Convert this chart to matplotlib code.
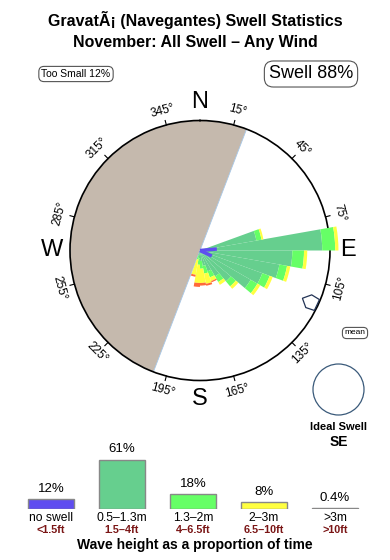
import numpy as np
import matplotlib
matplotlib.use("Agg")
import matplotlib.pyplot as plt
from matplotlib.patches import Polygon, Ellipse

plt.rcParams['font.family'] = ['Liberation Sans', 'DejaVu Sans']

# --- rose data (10 deg direction bins, radius 1.0 = outer circle) ---
dir_centers = [75, 85, 95, 105, 115, 125, 135, 145, 155, 165, 175, 185, 195]
r_small = [0.44, 0.94, 0.71, 0.62, 0.51, 0.45, 0.31, 0.23, 0.17, 0.12, 0.08, 0.06, 0.04]   # 0.5-1.3m
r_mid = [0.04, 0.10, 0.09, 0.06, 0.06, 0.06, 0.05, 0.05, 0.05, 0.06, 0.06, 0.05, 0.03]     # 1.3-2m
r_big = [0.015, 0.025, 0.025, 0.025, 0.025, 0.025, 0.025, 0.025, 0.03, 0.08, 0.11, 0.14, 0.12]  # 2-3m
r_huge = [0, 0, 0, 0, 0, 0, 0, 0, 0.01, 0.015, 0.02, 0.03, 0.015]  # >3m
noswell_dir = [85, 115]
noswell_r = [0.13, 0.10]

land_from, land_to = 201, 381   # shaded land sector (bearing)
mean_dir = 115

# --- bottom bar data ---
size_labels = ['no swell', '0.5\u20131.3m', '1.3\u20132m', '2\u20133m', '>3m']
feet_labels = ['<1.5ft', '1.5\u20134ft', '4\u20136.5ft', '6.5\u201310ft', '>10ft']
size_pct = [12, 61, 18, 8, 0.4]
pct_text = ['12%', '61%', '18%', '8%', '0.4%']
colors = ['#5f4df0', '#66cf8e', '#66ff66', '#ffff40', '#ff6a3a']

W, H = 390, 560
fig = plt.figure(figsize=(W / 100, H / 100), dpi=100)


def fx(x):
    return x / W


def fy(y):
    return 1 - y / H


fig.text(fx(195), fy(20), 'Gravat\u00c3\u00a1 (Navegantes) Swell Statistics',
         ha='center', va='center', fontsize=11.5, fontweight='bold')
fig.text(fx(195), fy(42), 'November: All Swell \u2013 Any Wind',
         ha='center', va='center', fontsize=11.5, fontweight='bold')

box = dict(boxstyle='round,pad=0.25,rounding_size=0.5', fc='white', ec='#555555', lw=0.8)
fig.text(fx(76), fy(74), 'Too Small 12%', ha='center', va='center', fontsize=7.5, bbox=box)
fig.text(fx(311), fy(74), 'Swell 88%', ha='center', va='center', fontsize=13, bbox=box)

# --- polar rose ---
cx, cy, R = 200, 250.5, 130
ax = fig.add_axes([fx(cx - R), fy(cy + R), 2 * R / W, 2 * R / H], projection='polar')
ax.set_theta_zero_location('N')
ax.set_theta_direction(-1)
ax.set_ylim(0, 1)
ax.grid(False)
ax.set_xticks([])
ax.set_yticks([])
ax.spines['polar'].set_linewidth(1.2)
ax.patch.set_alpha(0)

th = np.radians(np.linspace(land_from, land_to, 200))
ax.fill(np.concatenate([[0], th]), np.concatenate([[0], np.ones_like(th)]),
        color='#c5b9ad', ec='#a8c8e8', lw=0.6, zorder=1)

theta = np.radians(dir_centers)
width = np.radians(10)
bottom = np.zeros(len(dir_centers))
for vals, c in zip([r_small, r_mid, r_big, r_huge], colors[1:]):
    bars = ax.bar(theta, vals, width=width, bottom=bottom, color=c, lw=0, zorder=3)
    for b in bars:
        b.set_clip_on(False)
    bottom = bottom + np.array(vals)

for d, rr in zip(noswell_dir, noswell_r):
    ax.plot([np.radians(d), np.radians(d)], [0, rr], color=colors[0], lw=2.5,
            solid_capstyle='butt', zorder=4)

# ticks and degree labels
for b in range(15, 360, 30):
    t = np.radians(b)
    ax.plot([t, t], [1.0, 1.035], color='black', lw=0.8, clip_on=False)
    rot = -b if (b < 90 or b > 270) else 180 - b
    ax.text(t, 1.115, f'{b}\u00b0', ha='center', va='center', rotation=rot,
            rotation_mode='anchor', fontsize=8.5, clip_on=False)
for lab, b in zip(['N', 'E', 'S', 'W'], [0, 90, 180, 270]):
    ax.text(np.radians(b), 1.14, lab, ha='center', va='center', fontsize=17, clip_on=False)

# mean direction marker
t = np.radians(mean_dir)
ur = np.array([np.sin(t), -np.cos(t)])      # outward in pixel (x right, y down)
vt = np.array([np.cos(t), np.sin(t)])
pc = np.array([cx, cy]) + ur * 122
shape = [(-9, 0), (-2, -7), (7, -6), (7, 6), (-2, 7)]
pts = [pc + u * ur + v * vt for u, v in shape]
fig.add_artist(Polygon([(fx(p[0]), fy(p[1])) for p in pts], closed=True, fill=False,
                       ec='#223355', lw=0.9, transform=fig.transFigure))

fig.text(fx(355), fy(333), 'mean', ha='center', va='center', fontsize=6, bbox=box)

# ideal swell circle
fig.add_artist(Ellipse((fx(338.5), fy(389.5)), 51 / W, 51 / H, ec='#3a5a7a', fc='none',
                       lw=0.9, transform=fig.transFigure))
fig.text(fx(339), fy(427), 'Ideal Swell', ha='center', va='center', fontsize=8, fontweight='bold')
fig.text(fx(339), fy(442), 'SE', ha='center', va='center', fontsize=10, fontweight='bold')

# --- bottom bars ---
base_y = 508.5
bx = fig.add_axes([fx(15.5), fy(base_y), 355 / W, 60 / H])
x = np.arange(len(size_pct))
bx.bar(x, size_pct, width=0.634, color=colors, edgecolor='#888888', lw=1)
bx.set_xlim(-0.5, 4.5)
bx.set_ylim(0, 60 / 49 * 61)
bx.axis('off')
for i, v in enumerate(size_pct):
    bx.annotate(pct_text[i], (i, v), xytext=(0, 3), textcoords='offset points',
                ha='center', va='bottom', fontsize=9.5)
    bx.annotate(size_labels[i], (i, 0), xytext=(0, -7), textcoords='offset points',
                ha='center', va='center', fontsize=8.7)
    bx.annotate(feet_labels[i], (i, 0), xytext=(0, -15.3), textcoords='offset points',
                ha='center', va='center', fontsize=7.8, fontweight='bold', color='#7a1515')
fig.text(fx(195), fy(545.5), 'Wave height as a proportion of time', ha='center', va='center',
         fontsize=10, fontweight='bold')

fig.savefig('out.png', dpi=100)
